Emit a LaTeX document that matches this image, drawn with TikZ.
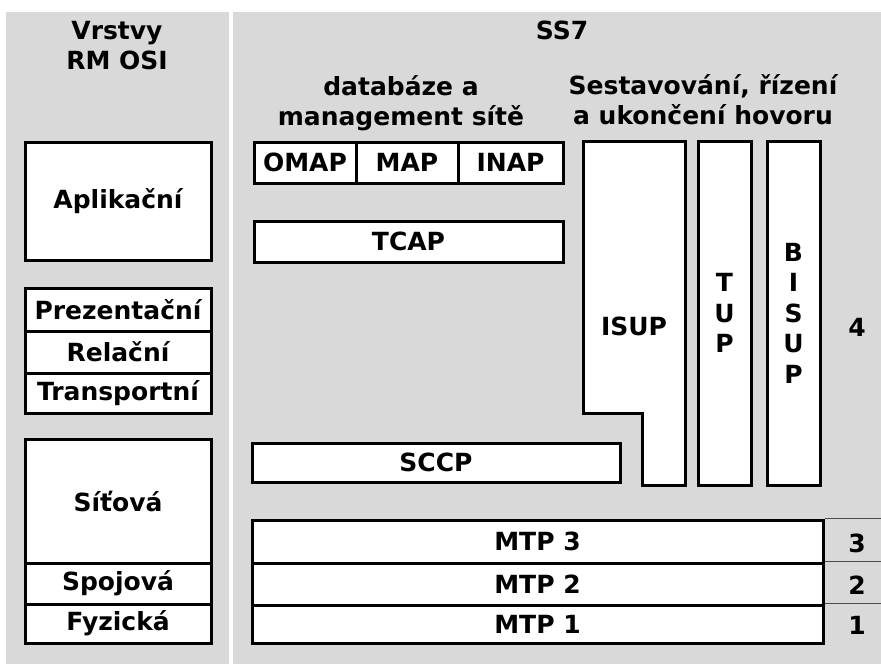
\documentclass[tikz,border=0pt]{standalone}
\usepackage{fontspec}
\setmainfont{DejaVu Sans}
\definecolor{panelgray}{RGB}{217,217,217}

\begin{document}
\begin{tikzpicture}[
    x=1pt,
    y=-1pt,
    every node/.style={font=\bfseries\fontsize{25}{30}\selectfont},
    layer/.style={draw, fill=white, line width=3pt, inner sep=0pt},
    title/.style={align=center},
    stack/.style={align=center, font=\bfseries\fontsize{25}{30.5}\selectfont},
    sep/.style={draw=black!70, line width=1pt}
]
\useasboundingbox (0,0) rectangle (881,664);

% pozadi
\fill[panelgray] (6,12) rectangle (229,664);
\fill[panelgray] (233,12) rectangle (881,664);

% nadpisy
\node[title] (osi) at (117,46) {Vrstvy\\RM OSI};
\node[anchor=base] (ss7) at (562,39) {SS7};
\node[title] (dbm) at (401,103) {databáze a\\management sítě};
\node[title] (hov) at (703,100) {Sestavování, řízení\\a ukončení hovoru};

% vrstvy RM OSI
\node[layer, minimum width=186pt, minimum height=118pt] (apl) at (118,201) {Aplikační};
\node[layer, minimum width=186pt, minimum height=43pt] (prez) at (118,309.5) {Prezentační};
\node[layer, minimum width=186pt, minimum height=42pt] (rel) at (118,352) {Relační};
\node[layer, minimum width=186pt, minimum height=40pt] (trans) at (118,393) {Transportní};
\node[layer, minimum width=186pt, minimum height=124pt] (sit) at (118,501) {Síťová};
\node[layer, minimum width=186pt, minimum height=41pt] (spoj) at (118,583.5) {Spojová};
\node[layer, minimum width=186pt, minimum height=39pt] (fyz) at (118,623.5) {Fyzická};

% databaze a management site
\node[layer, minimum width=102pt, minimum height=41pt] (omap) at (305,162.5) {OMAP};
\node[layer, minimum width=102pt, minimum height=41pt] (map) at (407,162.5) {MAP};
\node[layer, minimum width=105pt, minimum height=41pt] (inap) at (510.5,162.5) {INAP};
\node[layer, minimum width=309pt, minimum height=41pt] (tcap) at (408.5,241.5) {TCAP};
\node[layer, minimum width=368pt, minimum height=39pt] (sccp) at (436,462.5) {SCCP};

% uzivatelske casti
\draw[line width=3pt, fill=white] (583,141) -- (685,141) -- (685,485) -- (642,485)
    -- (642,413) -- (583,413) -- cycle;
\node (isup) at (634,326) {ISUP};
\node[layer, stack, minimum width=53pt, minimum height=344pt] (tup) at (724.5,313) {T\\U\\P};
\node[layer, stack, minimum width=53pt, minimum height=344pt] (bisup) at (793.5,313) {B\\I\\S\\U\\P};

% MTP
\node[layer, minimum width=571pt, minimum height=43pt] (mtp3) at (537.5,541.5) {MTP 3};
\node[layer, minimum width=571pt, minimum height=42pt] (mtp2) at (537.5,584) {MTP 2};
\node[layer, minimum width=571pt, minimum height=38pt] (mtp1) at (537.5,624) {MTP 1};

% cisla urovni
\coordinate (rim) at (881,0);
\draw[sep] (mtp3.north east) -- (mtp3.north east -| rim);
\draw[sep] (mtp2.north east) -- (mtp2.north east -| rim);
\draw[sep] (mtp1.north east) -- (mtp1.north east -| rim);
\node (l4) at (857,327.5) {4};
\node (l3) at (857,543) {3};
\node (l2) at (857,585) {2};
\node (l1) at (857,625) {1};

\end{tikzpicture}
\end{document}
